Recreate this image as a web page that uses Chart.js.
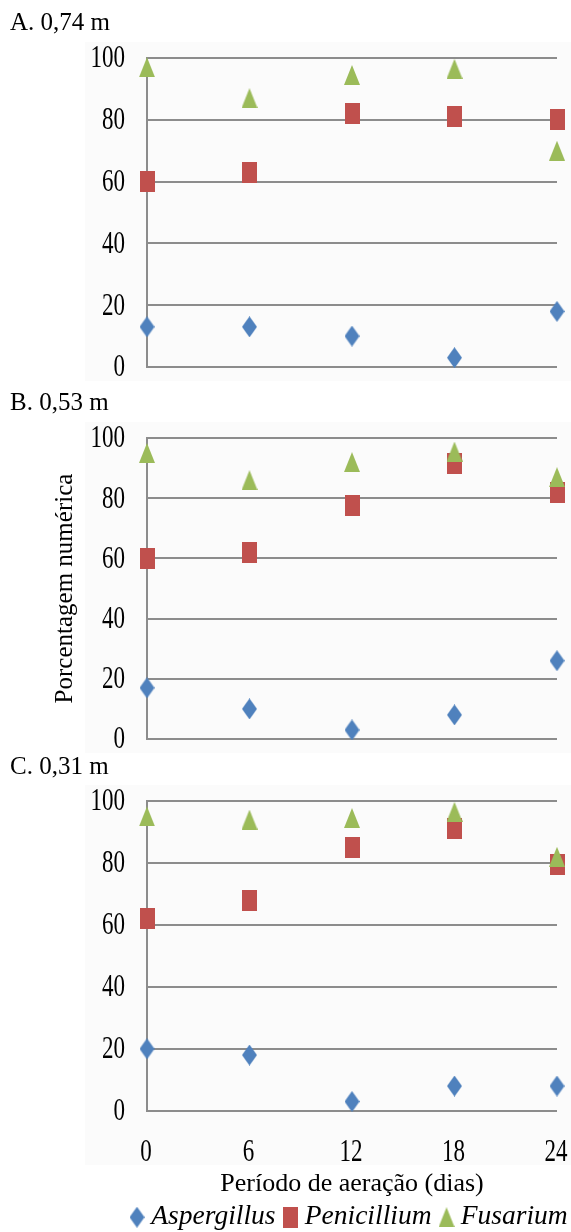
<!DOCTYPE html>
<html>
<head>
<meta charset="utf-8">
<script src="https://cdn.jsdelivr.net/npm/chart.js@4.4.1/dist/chart.umd.min.js"></script>
<style>
  html, body { margin: 0; padding: 0; background: #fff; overflow: hidden; }
  body { width: 571px; height: 1232px; position: relative; }
  canvas { position: absolute; left: 0; }
</style>
</head>
<body>
<canvas id="chartA" width="571" height="385" style="top:0px"></canvas>
<canvas id="chartB" width="571" height="380" style="top:385px"></canvas>
<canvas id="chartC" width="571" height="502" style="top:750px"></canvas>
<script>
// Period of aeration (days) and tick labels
const days = [0, 6, 12, 18, 24];
const yTicks = [0, 20, 40, 60, 80, 100];
const xTicks = [0, 6, 12, 18, 24];
const seriesNames = ['Aspergillus', 'Penicillium', 'Fusarium'];

// A. 0,74 m
const aAspergillus = [13, 13, 10, 3, 18];
const aPenicillium = [60, 63, 82, 81, 80];
const aFusarium = [97, 87, 94.5, 96.5, 70];

// B. 0,53 m
const bAspergillus = [17, 10, 3, 8, 26];
const bPenicillium = [60, 62, 77.5, 91.5, 82];
const bFusarium = [95, 86, 92, 95.5, 87];

// C. 0,31 m
const cAspergillus = [20, 18, 3, 8, 8];
const cPenicillium = [62, 68, 85, 91, 79.5];
const cFusarium = [95, 94, 94.5, 96.5, 82];

const FONT = '"Liberation Serif", "Times New Roman", serif';
const GRID = '#8c8c8c';
const COLORS = ['#4f81bd', '#c0504d', '#9bbb59'];

Chart.defaults.font.family = FONT;
Chart.defaults.color = '#000';

// markers are a bit taller than wide, like in the original figure
function makeMarker(shape, w, h, color) {
  const c = document.createElement('canvas');
  c.width = w;
  c.height = h;
  const g = c.getContext('2d');
  g.fillStyle = color;
  g.beginPath();
  if (shape === 'diamond') {
    g.moveTo(w / 2, 0); g.lineTo(w, h / 2); g.lineTo(w / 2, h); g.lineTo(0, h / 2);
  } else if (shape === 'square') {
    g.rect(0, 0, w, h);
  } else {
    g.moveTo(w / 2, 0); g.lineTo(w, h); g.lineTo(0, h);
  }
  g.closePath();
  g.fill();
  return c;
}
const markers = [
  makeMarker('diamond', 15, 21, COLORS[0]),
  makeMarker('square', 15, 21, COLORS[1]),
  makeMarker('triangle', 16, 20, COLORS[2])
];

// faint grey panel behind the plot, as in the scanned figure
const panelBg = {
  id: 'panelBg',
  beforeDraw(chart, args, opts) {
    const { ctx, chartArea } = chart;
    ctx.save();
    ctx.fillStyle = '#fbfbfb';
    ctx.fillRect(85, chartArea.top - 16, chart.width - 85, chartArea.bottom - chartArea.top + opts.extra);
    ctx.restore();
  }
};

// tick labels are horizontally condensed in the reference, so draw them squeezed
function squeezed(ctx, text, x, y, align) {
  ctx.save();
  ctx.translate(x, y);
  ctx.scale(0.72, 1);
  ctx.textAlign = align;
  ctx.fillText(text, 0, 0);
  ctx.restore();
}
const condensedTicks = {
  id: 'condensedTicks',
  afterDraw(chart, args, opts) {
    const { ctx, chartArea } = chart;
    const ys = chart.scales.y;
    const xs = chart.scales.x;
    ctx.save();
    ctx.fillStyle = '#000';
    ctx.font = '32px ' + FONT;
    ctx.textBaseline = 'middle';
    yTicks.forEach(v => squeezed(ctx, String(v), chartArea.left - 22, ys.getPixelForValue(v) + 1, 'right'));
    if (opts.showX) {
      xTicks.forEach(v => squeezed(ctx, String(v), xs.getPixelForValue(v) - 1, chartArea.bottom + 42, 'center'));
    }
    ctx.restore();
  }
};

// move the legend to where it sits in the original figure
const legendShift = {
  id: 'legendShift',
  afterLayout(chart, args, opts) {
    const lg = chart.legend;
    if (!lg || !opts.dx) return;
    lg.left += opts.dx; lg.right += opts.dx;
    lg.top += opts.dy; lg.bottom += opts.dy;
  }
};

function buildDatasets(values) {
  return values.map((vals, i) => ({
    label: seriesNames[i],
    data: days.map((d, j) => ({ x: d, y: vals[j] })),
    pointStyle: markers[i],
    backgroundColor: COLORS[i],
    borderColor: COLORS[i],
    order: 2 - i,
    clip: false
  }));
}

function makeChart(id, title, values, o) {
  new Chart(document.getElementById(id), {
    type: 'scatter',
    data: { datasets: buildDatasets(values) },
    plugins: [panelBg, condensedTicks, legendShift],
    options: {
      responsive: false,
      animation: false,
      events: [],
      layout: { padding: { left: 10, right: 14, top: 0, bottom: o.padBottom } },
      plugins: {
        panelBg: { extra: o.bgExtra },
        condensedTicks: { showX: o.isLast },
        legendShift: { dx: o.isLast ? 112 : 0, dy: -11 },
        title: {
          display: true,
          text: title,
          align: 'start',
          color: '#000',
          font: { size: 25, weight: 'normal' },
          padding: o.titlePad
        },
        legend: {
          display: o.isLast,
          position: 'bottom',
          align: 'start',
          labels: {
            usePointStyle: true,
            pointStyleWidth: 1,
            padding: 14.5,
            color: '#000',
            font: { size: 27.5, style: 'italic' },
            sort: (a, b) => a.datasetIndex - b.datasetIndex
          }
        },
        tooltip: { enabled: false }
      },
      scales: {
        x: {
          type: 'linear',
          min: 0,
          max: 24,
          display: o.isLast,
          grid: { display: false },
          border: { display: false },
          ticks: { display: false, stepSize: 6 },
          title: {
            display: true,
            text: 'Período de aeração (dias)',
            color: '#000',
            font: { size: 26 },
            padding: { top: 50, bottom: 0 }
          }
        },
        y: {
          min: 0,
          max: 100,
          afterFit: s => { s.width = 137; },
          ticks: { display: false, stepSize: 20 },
          grid: { color: GRID, lineWidth: 2, drawTicks: false },
          border: { display: true, color: GRID, width: 2 },
          title: {
            display: o.yTitle,
            text: 'Porcentagem numérica',
            color: '#000',
            font: { size: 25 },
            padding: { top: 40, bottom: 0 }
          }
        }
      }
    }
  });
}

makeChart('chartA', 'A. 0,74 m', [aAspergillus, aPenicillium, aFusarium],
  { padBottom: 18, titlePad: { top: 8.8, bottom: 19.2 }, bgExtra: 30, isLast: false, yTitle: false });
makeChart('chartB', 'B. 0,53 m', [bAspergillus, bPenicillium, bFusarium],
  { padBottom: 26, titlePad: { top: 3.5, bottom: 19.5 }, bgExtra: 30, isLast: false, yTitle: true });
makeChart('chartC', 'C. 0,31 m', [cAspergillus, cPenicillium, cFusarium],
  { padBottom: 0, titlePad: { top: 2, bottom: 19 }, bgExtra: 70, isLast: true, yTitle: false });
</script>
</body>
</html>
